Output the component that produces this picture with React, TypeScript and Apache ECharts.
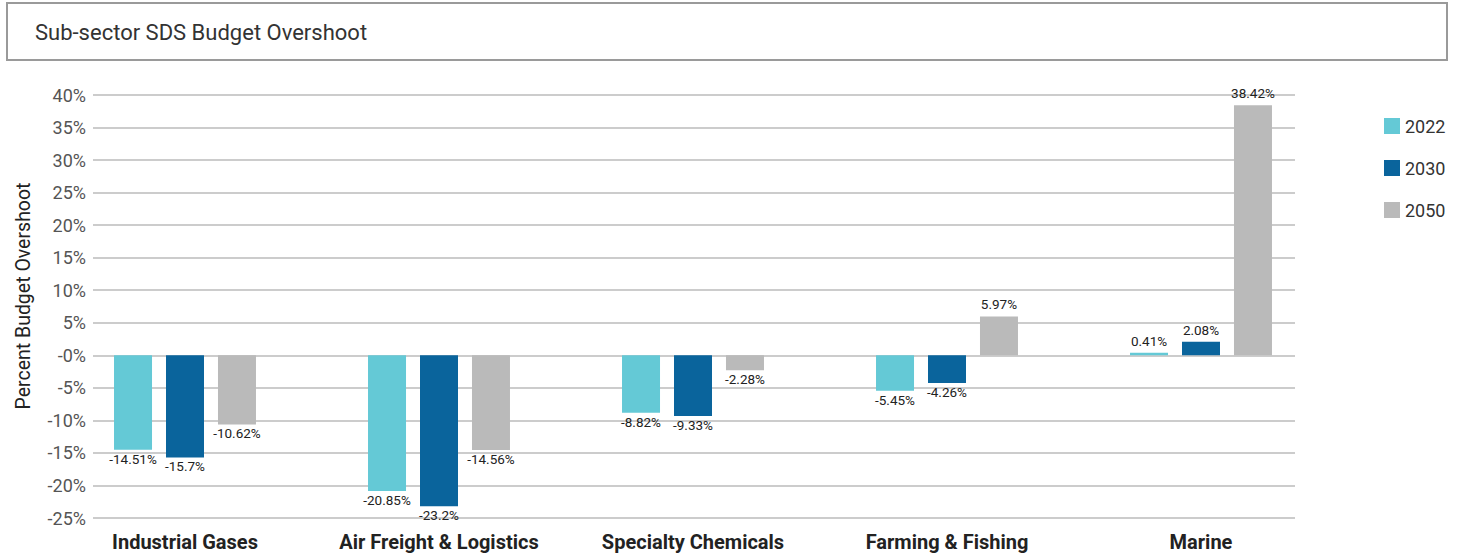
import React, { useEffect, useRef } from "react";
import * as echarts from "echarts";

const categories = [
  "Industrial Gases",
  "Air Freight & Logistics",
  "Specialty Chemicals",
  "Farming & Fishing",
  "Marine",
];
const years = ["2022", "2030", "2050"];
const values2022 = [-14.51, -20.85, -8.82, -5.45, 0.41];
const values2030 = [-15.7, -23.2, -9.33, -4.26, 2.08];
const values2050 = [-10.62, -14.56, -2.28, 5.97, 38.42];
const colors = ["#64C9D6", "#0A649C", "#BABABA"];

const Y_MIN = -25;
const Y_MAX = 40;
const Y_STEP = 5;

const FONT = "Roboto, 'Noto Sans', sans-serif";

function barSeries(name: string, values: number[], color: string) {
  return {
    name,
    type: "bar",
    xAxisIndex: 1,
    yAxisIndex: 1,
    barWidth: 38,
    barGap: "36.8%",
    itemStyle: { color },
    data: values.map((v) => ({
      value: v,
      label: {
        position: v < 0 ? "bottom" : "top",
        distance: v < 0 ? 2 : 5,
      },
    })),
    label: {
      show: true,
      formatter: (p: any) => `${p.value}%`,
      color: "#222",
      fontSize: 13.5,
      fontFamily: FONT,
    },
  };
}

export default function App() {
  const ref = useRef<HTMLDivElement>(null);

  useEffect(() => {
    if (!ref.current) return;
    const chart = echarts.init(ref.current, null, { renderer: "svg" });
    const top = 95;
    const height = 423;
    chart.setOption({
      animation: false,
      backgroundColor: "#fff",
      textStyle: { fontFamily: FONT },
      graphic: [
        {
          type: "rect",
          shape: { x: 7, y: 3, width: 1440, height: 57 },
          style: { fill: "#fff", stroke: "#9a9a9a", lineWidth: 2 },
          z: -1,
        },
        {
          type: "text",
          x: 35,
          y: 32,
          style: {
            text: "Sub-sector SDS Budget Overshoot",
            fill: "#333",
            font: `22px ${FONT}`,
            verticalAlign: "middle",
            textAlign: "left",
          },
        },
        {
          type: "text",
          x: 23,
          y: 296,
          rotation: Math.PI / 2,
          style: {
            text: "Percent Budget Overshoot",
            fill: "#222",
            font: `19.5px ${FONT}`,
            verticalAlign: "middle",
            textAlign: "center",
          },
        },
      ],
      legend: {
        orient: "vertical",
        left: 1379,
        top: 112,
        itemWidth: 16,
        itemHeight: 16,
        itemGap: 24,
        icon: "rect",
        data: years,
        textStyle: {
          fontSize: 18,
          color: "#333",
          fontFamily: FONT,
        },
      },
      grid: [
        { left: 93, width: 1202, top, height },
        { left: 58, width: 1270, top, height },
      ],
      xAxis: [
        {
          type: "category",
          gridIndex: 0,
          data: categories,
          show: false,
        },
        {
          type: "category",
          gridIndex: 1,
          data: categories,
          axisLine: { show: false },
          axisTick: { show: false },
          axisLabel: {
            interval: 0,
            hideOverlap: false,
            margin: 14,
            fontSize: 20,
            fontWeight: "bold",
            color: "#222",
            fontFamily: FONT,
          },
        },
      ],
      yAxis: [
        {
          type: "value",
          gridIndex: 0,
          min: Y_MIN,
          max: Y_MAX,
          interval: Y_STEP,
          axisLine: { show: false },
          axisTick: { show: false },
          splitLine: { lineStyle: { color: "#cccccc", width: 2 } },
          axisLabel: {
            margin: 7,
            fontSize: 18,
            color: "#555",
            fontFamily: FONT,
            formatter: (v: number) => (v === 0 ? "-0%" : `${v}%`),
          },
        },
        {
          type: "value",
          gridIndex: 1,
          min: Y_MIN,
          max: Y_MAX,
          interval: Y_STEP,
          show: false,
          splitLine: { show: false },
        },
      ],
      series: [
        barSeries(years[0], values2022, colors[0]),
        barSeries(years[1], values2030, colors[1]),
        barSeries(years[2], values2050, colors[2]),
      ],
    });
    return () => chart.dispose();
  }, []);

  return (
    <div
      ref={ref}
      style={{ position: "absolute", left: 0, top: 0, width: 1461, height: 558 }}
    />
  );
}
